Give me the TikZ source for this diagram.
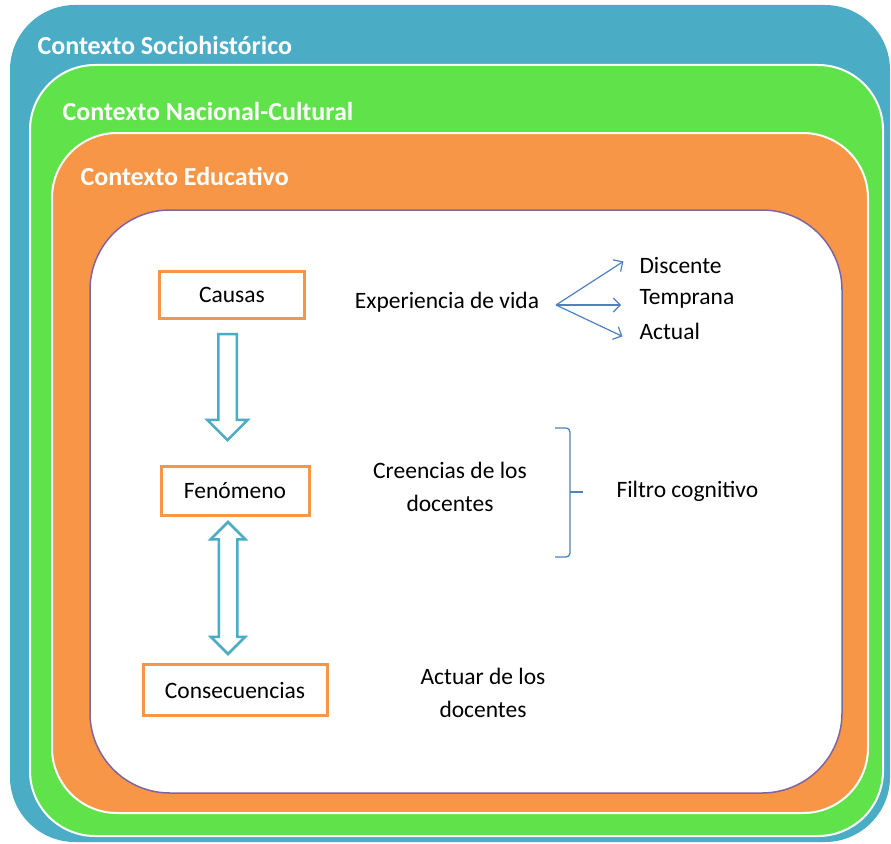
\documentclass[tikz,border=0pt]{standalone}
\usepackage{fontspec}
\setmainfont{Carlito}
\usetikzlibrary{shapes.arrows,arrows.meta,positioning,calc}

\definecolor{azulctx}{HTML}{4BACC6}
\definecolor{verdectx}{HTML}{5FE24A}
\definecolor{naranjactx}{HTML}{F79646}
\definecolor{moradoctx}{HTML}{8064A2}
\definecolor{azulflecha}{HTML}{4F81BD}

\begin{document}
\begin{tikzpicture}[x=1pt,y=-1pt]

      \tikzstyle{contexto}=[rounded corners=65pt,draw=white,line width=2pt]
      \tikzstyle{titulo}=[anchor=west,text=white,
        font=\fontsize{26}{30}\selectfont\bfseries]
      \tikzstyle{caja}=[rectangle,draw=naranjactx,line width=3pt,
        minimum height=47pt,font=\fontsize{23.5}{26}\selectfont]
      \tikzstyle{texto}=[align=center,font=\fontsize{23.5}{33}\selectfont]
      \tikzstyle{rama}=[anchor=west,font=\fontsize{23.5}{26}\selectfont]
      \tikzstyle{bloque}=[draw=azulctx,fill=white,line width=2.5pt,
        inner xsep=0pt,inner ysep=8pt,rotate=-90]
      \tikzstyle{flecha}=[azulflecha,line width=1.2pt,
        -{Straight Barb[length=7pt,width=14pt]}]
      \tikzstyle{llave}=[azulflecha,line width=1.3pt,rounded corners=4pt]

      \useasboundingbox (0,0) rectangle (891,843);

      \fill[azulctx,rounded corners=65pt] (10,5) rectangle (890,842);
      \filldraw[contexto,fill=verdectx] (30,65) rectangle (883,836);
      \filldraw[contexto,fill=naranjactx] (52,133) rectangle (868,813);
      \filldraw[contexto,draw=moradoctx,fill=white,
        rounded corners=80pt,line width=1.5pt] (90,210) rectangle (842,793);

      \node(Socio1)[titulo] at (34,45){Contexto Sociohistórico};
      \node(Nacional1)[titulo] at (59,111){Contexto Nacional-Cultural};
      \node(Educativo1)[titulo] at (77,176){Contexto Educativo};

      \node(Causas1)[caja,minimum width=145pt] at (232,295){Causas};
      \node(Fenomeno1)[caja,minimum width=148pt,minimum height=49pt,
        below=145pt of Causas1,xshift=3pt]{Fenómeno};
      \node(Consecuencias1)[caja,minimum width=184pt,minimum height=51pt,
        below=146pt of Fenomeno1]{Consecuencias};

      \node(Flecha1)[bloque,single arrow,single arrow head extend=11pt,
        minimum height=106pt]
        at ($(Causas1.south)!0.5!(Fenomeno1.north)+(-6,-10)$){};
      \node(Flecha2)[bloque,double arrow,double arrow head extend=8pt,
        minimum height=132pt]
        at ($(Fenomeno1.south)!0.5!(Consecuencias1.north)+(-7,-2)$){};

      \node(Experiencia1)[texto] at (447,302){Experiencia de vida};
      \coordinate(Origen1) at (556,305);
      \node(Discente1)[rama] at (636,265){Discente};
      \node(Temprana1)[rama] at (636,299){Temprana};
      \node(Actual1)[rama] at (636,331){Actual};

      \draw [flecha,shorten >=15pt] (Origen1)--(Discente1.north west);
      \draw [flecha,shorten >=15pt] (Origen1)--(Temprana1.west |- Origen1);
      \draw [flecha,shorten >=15pt] (Origen1)--(Actual1.south west);

      \node(Creencias1)[texto] at (450,487){Creencias de los\\docentes};
      \coordinate(Llave1) at (570,492);
      \draw [llave] (555,428) -| (Llave1) |- (555,557);
      \draw [llave] (Llave1)--++(13,0);
      \node(Filtro1)[rama] at (613,491){Filtro cognitivo};

      \node(Actuar1)[texto] at (483,693){Actuar de los\\docentes};

    \end{tikzpicture}
\end{document}
